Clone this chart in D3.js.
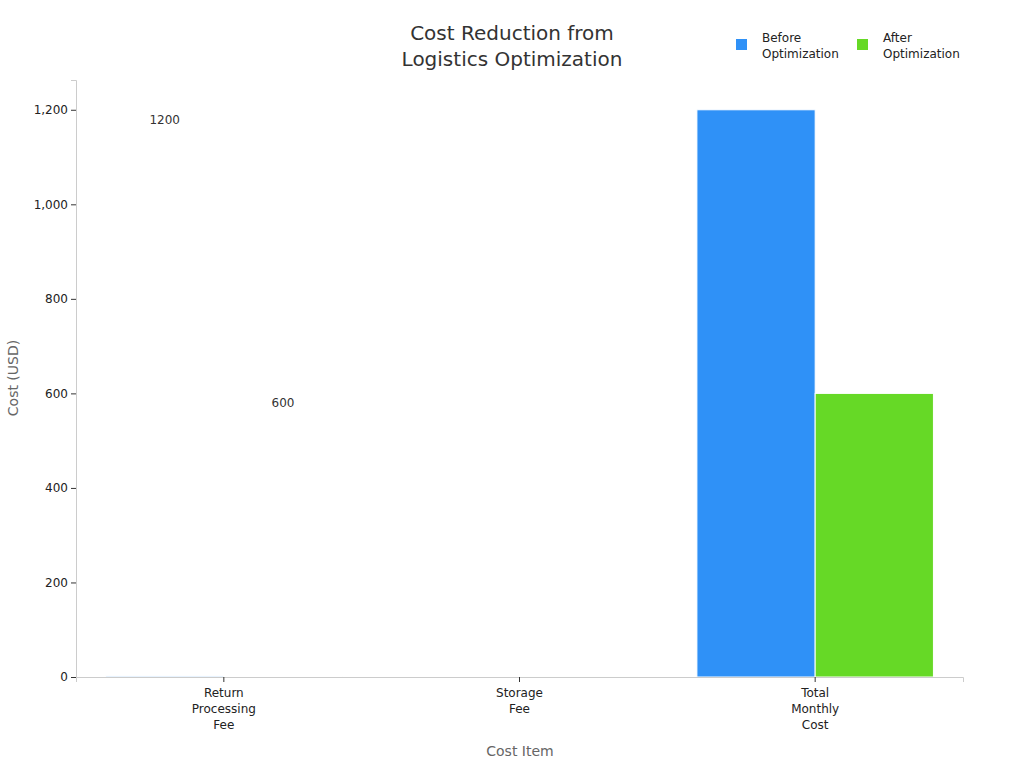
<!DOCTYPE html><html><head><meta charset="utf-8"><script src="https://cdn.jsdelivr.net/npm/d3@7"></script>
<style>body{margin:0;background:#fff;font-family:"DejaVu Sans",sans-serif}</style></head><body><svg id="c" width="1024" height="768"></svg>
<script>
const categories=[["Return","Processing","Fee"],["Storage","Fee"],["Total","Monthly","Cost"]];
const seriesNames=["Before Optimization","After Optimization"];
const before=[3,2,1200];
const after=[1.5,1,600];
const colors=["#2f91f7","#66d926"];
const yTicks=[0,200,400,600,800,1000,1200];
const svg=d3.select("#c");
const L=76,R=963,T=80,B=677;
const x=d3.scaleBand().domain(d3.range(3)).range([L,R]).paddingInner(0.2).paddingOuter(0.1);
const y=d3.scaleLinear().domain([0,1263]).range([B,T]);
const xs=d3.scaleBand().domain([0,1]).range([0,x.bandwidth()]);
const g=svg.append("g");
[before,after].forEach((vals,s)=>{
 g.selectAll(null).data(vals).enter().append("rect")
  .attr("x",(d,i)=>x(i)+xs(s)).attr("width",xs.bandwidth()).attr("y",d=>y(d)).attr("height",d=>B-y(d))
  .attr("fill",colors[s]).attr("stroke","#fff").attr("stroke-width",1).attr("opacity",(d)=>d<10?0.25:1);
 g.selectAll(null).data(vals).enter().filter(d=>d>=100).append("text")
  .attr("x",(d,i)=>x(i)+xs(s)+xs.bandwidth()/2).attr("y",d=>y(d)+14).attr("text-anchor","middle")
  .attr("font-size",12).attr("fill","#333").text(d=>d);
});
const ya=svg.append("g").attr("transform",`translate(${L},0)`).call(d3.axisLeft(y).tickValues(yTicks).tickSize(5));
ya.select(".domain").attr("stroke","#ccc");ya.selectAll("line").attr("stroke","#333");
ya.selectAll("text").attr("font-size",12).attr("fill","#222").attr("font-family","DejaVu Sans");
const xa=svg.append("g").attr("transform",`translate(0,${B})`).call(d3.axisBottom(x).tickSize(5).tickFormat(""));
xa.select(".domain").attr("stroke","#ccc");xa.selectAll("line").attr("stroke","#333");
categories.forEach((lines,i)=>{
 const t=svg.append("text").attr("x",x(i)+x.bandwidth()/2).attr("y",697).attr("text-anchor","middle").attr("font-size",12).attr("fill","#222");
 lines.forEach((l,j)=>t.append("tspan").attr("x",x(i)+x.bandwidth()/2).attr("dy",j?16:0).text(l));
});
svg.append("text").attr("x",520).attr("y",756).attr("text-anchor","middle").attr("font-size",14).attr("fill","#666").text("Cost Item");
svg.append("text").attr("transform","translate(18,378) rotate(-90)").attr("text-anchor","middle").attr("font-size",14).attr("fill","#666").text("Cost (USD)");
const tt=svg.append("text").attr("text-anchor","middle").attr("font-size",20).attr("fill","#333");
tt.append("tspan").attr("x",512).attr("y",40).text("Cost Reduction from");
tt.append("tspan").attr("x",512).attr("y",66).text("Logistics Optimization");
const lx=[736,857];
seriesNames.forEach((n,i)=>{
 svg.append("rect").attr("x",lx[i]).attr("y",39).attr("width",11).attr("height",11).attr("fill",colors[i]);
 const t=svg.append("text").attr("font-size",12).attr("fill","#222");
 n.split(" ").forEach((w,j)=>t.append("tspan").attr("x",lx[i]+26).attr("y",42+j*16).text(w));
});
</script></body></html>
